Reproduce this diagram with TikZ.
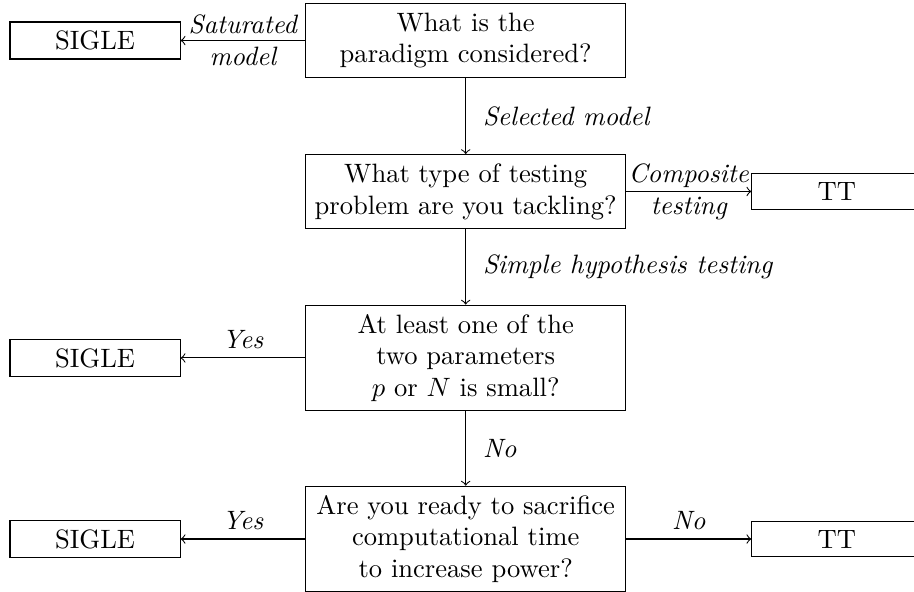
\documentclass[tikz,border=0pt]{standalone}
\usepackage{tikz}

\begin{document}
\begin{tikzpicture}[
    question/.style={draw, text width=4cm, align=center},
    answer/.style={draw, minimum width=2.25cm},
    lab/.style={font=\itshape, align=center}]
    \useasboundingbox (0,0) rectangle (12.09,-7.83);

    \node[question] (paradigm) at (6.16,-0.536) {What is the\\paradigm considered?};
    \node[question] (problem) at (6.16,-2.533) {What type of testing\\problem are you tackling?};
    \node[question] (small) at (6.16,-4.735) {At least one of the\\two parameters\\\(p\) or \(N\) is small?};
    \node[question] (power) at (6.16,-7.13) {Are you ready to sacrifice\\computational time\\to increase power?};

    \node[answer] (sigleA) at (1.257,-0.536) {SIGLE};
    \node[answer] (ttA) at (11.07,-2.533) {TT};
    \node[answer] (sigleB) at (1.257,-4.735) {SIGLE};
    \node[answer] (sigleC) at (1.257,-7.13) {SIGLE};
    \node[answer] (ttB) at (11.07,-7.13) {TT};

    \draw[->] (paradigm) -- node[lab] {Saturated\\model} (sigleA);
    \draw[->] (paradigm) -- node[lab, right=3pt] {Selected model} (problem);
    \draw[->] (problem) -- node[lab] {Composite\\testing} (ttA);
    \draw[->] (problem) -- node[lab, right=3pt] {Simple hypothesis testing} (small);
    \draw[->] (small) -- node[lab, above] {Yes} (sigleB);
    \draw[->] (small) -- node[lab, right=3pt] {No} (power);
    \draw[->] (power) -- node[lab, above] {Yes} (sigleC);
    \draw[->] (power) -- node[lab, above] {No} (ttB);
\end{tikzpicture}
\end{document}
